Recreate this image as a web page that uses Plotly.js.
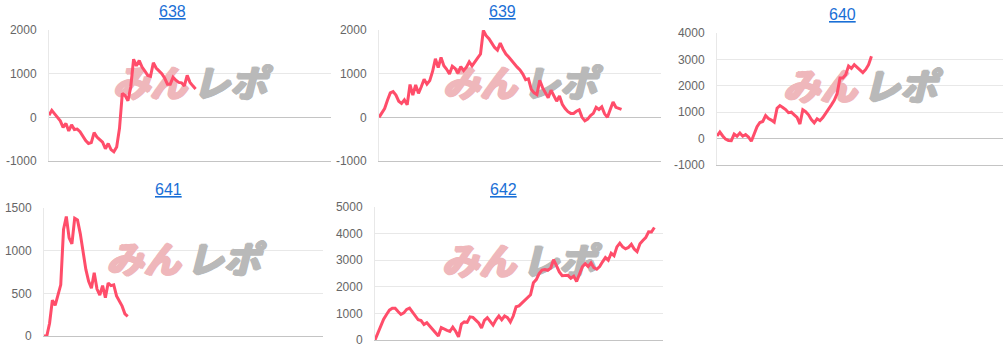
<!DOCTYPE html>
<html>
<head>
<meta charset="utf-8">
<script src="https://cdn.plot.ly/plotly-3.0.1.min.js"></script>
<style>
html,body{margin:0;padding:0;background:#fff;overflow:hidden;}
#chart{width:1007px;height:350px;}
</style>
</head>
<body>
<div id="chart"></div>
<script>
// ---- data ----
const titles = ['638', '639', '640', '641', '642'];

const v638 = [50,160,80,0,-80,-230,-140,-310,-170,-280,-270,-330,-440,-530,-600,-580,-350,-450,-510,-570,
  -720,-600,-740,-790,-680,-250,550,500,380,700,1330,1180,1300,1150,1060,960,940,1250,1130,1060,
  1000,900,760,760,920,850,800,790,720,960,800,720,650];

const v639 = [0,90,200,390,560,590,510,370,320,400,290,750,510,740,550,700,870,760,840,1050,
  1340,1140,1370,1180,1100,990,1170,1120,1010,1160,1070,1150,1270,1180,1260,1360,1450,1990,1870,1800,
  1700,1600,1540,1700,1560,1450,1380,1300,1210,1150,1084,990,860,880,640,560,520,850,680,560,
  450,620,480,370,490,300,200,130,90,90,140,170,0,-80,-40,40,90,230,180,240,
  80,0,180,350,230,200,180];

const v640 = [100,250,100,-20,-70,-80,170,90,210,90,150,60,-100,150,450,610,650,870,760,700,
  620,1150,1250,1180,1100,980,1000,900,800,550,1090,1020,900,720,600,750,680,800,950,1130,
  1280,1450,1700,2300,2300,2420,2750,2660,2800,2700,2590,2500,2620,2800,3120];

const v641 = [0,0,150,420,360,480,600,1250,1400,1150,1080,1380,1360,1200,980,780,640,560,740,550,
  480,590,450,620,590,600,470,410,350,260,230];

const v642 = [0,280,520,780,960,1120,1190,1190,1070,960,1020,1150,1200,1050,930,760,730,580,650,520,
  400,260,150,470,400,360,320,480,330,120,600,680,660,870,850,740,640,450,740,840,
  700,560,760,900,760,900,840,680,900,1250,1280,1380,1480,1600,1700,2150,2270,2500,2630,2650,
  2620,2700,3020,2800,2560,2420,2420,2430,2320,2400,2200,2500,2750,2870,2760,2900,2720,2660,2760,2940,
  3100,3000,3260,3170,3500,3640,3500,3430,3480,3600,3420,3320,3620,3740,3850,4070,4060,4230];

const series = [v638, v639, v640, v641, v642];

const yRange638 = [-1000, 2000], yTicks638 = [-1000, 0, 1000, 2000];
const yRange639 = [-1000, 2000], yTicks639 = [-1000, 0, 1000, 2000];
const yRange640 = [-1000, 4000], yTicks640 = [-1000, 0, 1000, 2000, 3000, 4000];
const yRange641 = [0, 1500],     yTicks641 = [0, 500, 1000, 1500];
const yRange642 = [0, 5000],     yTicks642 = [0, 1000, 2000, 3000, 4000, 5000];
const yRanges = [yRange638, yRange639, yRange640, yRange641, yRange642];
const yTicks = [yTicks638, yTicks639, yTicks640, yTicks641, yTicks642];

const watermarkText = ['みん', 'レポ'];

const xSpan = 100; // common x scale (data index)

// ---- layout (pixels) ----
const FW = 1007, FH = 350;
const boxes = [ // [left, right, top, bottom]
  [49, 331, 30, 161],
  [379, 661, 30, 161],
  [717, 1003, 33, 165],
  [44, 323, 208, 336],
  [375, 663, 207, 340]
];
const titlePos = [[172, 11], [502, 11], [842, 14], [168, 190], [503, 189]];

const LINE = '#ff4d6a';
const GRID = '#e8e8e8';
const AXIS = '#c4c4c4';
const FONT = 'Liberation Sans, Arial, Helvetica, sans-serif';
const WM_COLORS = ['#efb7bb', '#b9b9b9'];

function thick(c) {
  return ['1px 0 0', '-1px 0 0', '0 1px 0', '0 -1px 0', '1.5px 0.5px 0', '-1.5px -0.5px 0']
    .map(s => s + ' ' + c).join(', ');
}

const traces = [];
const layout = {
  width: FW, height: FH, autosize: false,
  margin: {l: 0, r: 0, t: 0, b: 0},
  paper_bgcolor: '#fff', plot_bgcolor: '#fff',
  showlegend: false,
  hovermode: false,
  annotations: [],
  font: {family: FONT}
};

series.forEach((vals, k) => {
  const n = k + 1;
  const xa = n === 1 ? 'x' : 'x' + n;
  const ya = n === 1 ? 'y' : 'y' + n;
  const [l, r, t, b] = boxes[k];
  const wpx = r - l, hpx = b - t;
  const yr = yRanges[k];

  // watermark (drawn under the line)
  const xMid = xSpan / 2;
  const off = 40 * xSpan / wpx;
  const yMid = (yr[0] + yr[1]) / 2 + 8 * (yr[1] - yr[0]) / hpx;
  watermarkText.forEach((txt, j) => {
    traces.push({
      type: 'scatter', mode: 'text', xaxis: xa, yaxis: ya,
      x: [xMid + (j === 0 ? -off : off)], y: [yMid],
      text: [txt],
      textposition: 'middle center',
      textfont: {family: 'Noto Sans CJK JP', size: 37, weight: 'bold', style: 'italic',
                 color: WM_COLORS[j], shadow: thick(WM_COLORS[j])},
      hoverinfo: 'skip', cliponaxis: false
    });
  });

  traces.push({
    type: 'scatter', mode: 'lines', xaxis: xa, yaxis: ya,
    x: vals.map((_, i) => i), y: vals,
    line: {color: LINE, width: 3},
    hoverinfo: 'skip'
  });

  layout['xaxis' + (n === 1 ? '' : n)] = {
    domain: [l / FW, r / FW], anchor: ya,
    range: [0, xSpan], showgrid: false, zeroline: false,
    showticklabels: false, ticks: '',
    showline: true, linecolor: AXIS, linewidth: 1, fixedrange: true
  };
  layout['yaxis' + (n === 1 ? '' : n)] = {
    domain: [1 - b / FH, 1 - t / FH], anchor: xa,
    range: yr, tickmode: 'array', tickvals: yTicks[k], ticktext: yTicks[k].map(String),
    showgrid: true, gridcolor: GRID, gridwidth: 1,
    zeroline: true, zerolinecolor: AXIS, zerolinewidth: 1,
    showline: true, linecolor: GRID, linewidth: 1,
    ticks: 'outside', ticklen: 9, tickcolor: 'rgba(0,0,0,0)',
    tickfont: {family: FONT, size: 12, color: '#666'},
    fixedrange: true
  };

  layout.annotations.push({
    xref: 'paper', x: titlePos[k][0] / FW, xanchor: 'center',
    yref: 'paper', y: 1 - titlePos[k][1] / FH, yanchor: 'middle',
    text: '<span style="text-decoration:underline">' + titles[k] + '</span>',
    showarrow: false,
    font: {family: FONT, size: 16, color: '#1a6fd6'}
  });
});

Plotly.newPlot('chart', traces, layout, {staticPlot: true, displayModeBar: false});
</script>
</body>
</html>
